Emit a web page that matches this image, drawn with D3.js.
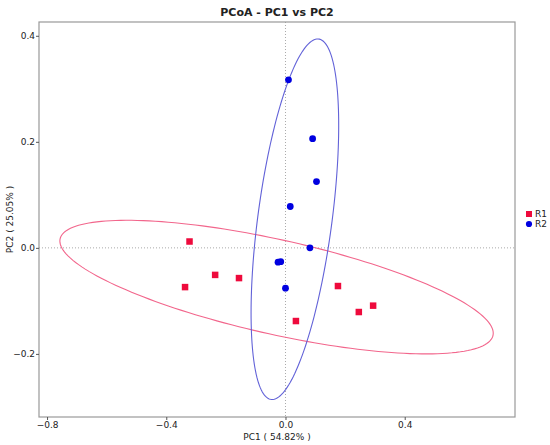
<!DOCTYPE html>
<html>
<head>
<meta charset="utf-8">
<script src="https://cdn.jsdelivr.net/npm/d3@7"></script>
<style>
  body { margin: 0; background: #fff; }
  svg text { font-family: "DejaVu Sans", sans-serif; fill: #222; }
</style>
</head>
<body>
<svg id="chart" width="550" height="445"></svg>
<script>
// sample scores
var groups = ['R1', 'R2'];
var colors = ['#ee0a3c', '#0000e0'];
var ellColors = ['#f2668c', '#6262d8'];

var r1X = [-0.322, -0.236, -0.156, -0.337, 0.176, 0.246, 0.294, 0.035];
var r1Y = [0.012, -0.051, -0.057, -0.074, -0.072, -0.121, -0.109, -0.138];
var r2X = [0.010, 0.091, 0.104, 0.016, 0.082, -0.025, -0.016, 0.000];
var r2Y = [0.317, 0.206, 0.125, 0.078, 0.000, -0.027, -0.026, -0.076];

// confidence ellipses: centre, spread on each axis, correlation
var ellCx = [-0.030, 0.0315];
var ellCy = [-0.074, 0.054];
var ellSx = [0.727, 0.147];
var ellSy = [0.126, 0.340];
var ellRho = [-0.69, 0.52];

var xTicks = [-0.8, -0.4, 0.0, 0.4];
var yTicks = [-0.2, 0.0, 0.2, 0.4];

var title = 'PCoA - PC1 vs PC2';
var xLabel = 'PC1 ( 54.82% )';
var yLabel = 'PC2 ( 25.05% )';

var margin = {top: 22, right: 35, bottom: 28, left: 39};
var width = 550 - margin.left - margin.right;
var height = 445 - margin.top - margin.bottom;

var svg = d3.select('#chart');
var g = svg.append('g')
  .attr('transform', 'translate(' + margin.left + ',' + margin.top + ')');

var x = d3.scaleLinear().domain([-0.827, 0.770]).range([0, width]);
var y = d3.scaleLinear().domain([-0.319, 0.426]).range([height, 0]);

var fmt = d3.format('.1f');

// zero lines
g.append('line')
  .attr('x1', x(0)).attr('x2', x(0))
  .attr('y1', 0).attr('y2', height)
  .attr('stroke', '#aaa').attr('stroke-dasharray', '1,2');
g.append('line')
  .attr('x1', 0).attr('x2', width)
  .attr('y1', y(0)).attr('y2', y(0))
  .attr('stroke', '#aaa').attr('stroke-dasharray', '1,2');

// ellipses
var ts = d3.range(0, 361, 2).map(function(d) { return d * Math.PI / 180; });
var line = d3.line()
  .x(function(d) { return x(d[0]); })
  .y(function(d) { return y(d[1]); });

groups.forEach(function(name, i) {
  var pts = ts.map(function(t) {
    var c = Math.cos(t), s = Math.sin(t);
    return [
      ellCx[i] + ellSx[i] * c,
      ellCy[i] + ellSy[i] * (ellRho[i] * c + Math.sqrt(1 - ellRho[i] * ellRho[i]) * s)
    ];
  });
  g.append('path')
    .attr('d', line(pts))
    .attr('fill', 'none')
    .attr('stroke', ellColors[i])
    .attr('stroke-width', 1.1);
});

// points
var r1 = r1X.map(function(v, i) { return [v, r1Y[i]]; });
var r2 = r2X.map(function(v, i) { return [v, r2Y[i]]; });
var sq = 6.5;

g.selectAll('.r1').data(r1).enter().append('rect')
  .attr('class', 'r1')
  .attr('x', function(d) { return x(d[0]) - sq / 2; })
  .attr('y', function(d) { return y(d[1]) - sq / 2; })
  .attr('width', sq).attr('height', sq)
  .attr('fill', colors[0]);

g.selectAll('.r2').data(r2).enter().append('circle')
  .attr('class', 'r2')
  .attr('cx', function(d) { return x(d[0]); })
  .attr('cy', function(d) { return y(d[1]); })
  .attr('r', 3.4)
  .attr('fill', colors[1]);

// frame
g.append('rect')
  .attr('width', width).attr('height', height)
  .attr('fill', 'none')
  .attr('stroke', '#999').attr('stroke-width', 1.2);

// axes
var xAxis = g.append('g')
  .attr('transform', 'translate(0,' + height + ')')
  .call(d3.axisBottom(x).tickValues(xTicks).tickFormat(fmt).tickSize(3).tickPadding(2));
var yAxis = g.append('g')
  .call(d3.axisLeft(y).tickValues(yTicks).tickFormat(fmt).tickSize(3).tickPadding(1));

[xAxis, yAxis].forEach(function(a) {
  a.select('.domain').remove();
  a.selectAll('line').attr('stroke', '#555');
  a.selectAll('text')
    .attr('font-family', '"DejaVu Sans", sans-serif')
    .attr('font-size', 9)
    .attr('fill', '#222');
});

// title and labels
svg.append('text')
  .attr('x', margin.left + width / 2).attr('y', 16)
  .attr('text-anchor', 'middle')
  .attr('font-size', 11).attr('font-weight', 'bold')
  .text(title);

svg.append('text')
  .attr('x', margin.left + width / 2).attr('y', 440)
  .attr('text-anchor', 'middle')
  .attr('font-size', 9)
  .text(xLabel);

svg.append('text')
  .attr('transform', 'translate(13,' + (margin.top + height / 2) + ') rotate(-90)')
  .attr('text-anchor', 'middle')
  .attr('font-size', 9)
  .text(yLabel);

// legend
var legend = svg.append('g').attr('transform', 'translate(526,211)');
legend.append('rect')
  .attr('x', 0).attr('y', 0).attr('width', 6).attr('height', 6)
  .attr('fill', colors[0]);
legend.append('circle')
  .attr('cx', 3).attr('cy', 13).attr('r', 3.1)
  .attr('fill', colors[1]);
legend.selectAll('.lab').data(groups).enter().append('text')
  .attr('class', 'lab')
  .attr('x', 9)
  .attr('y', function(d, i) { return 6 + i * 10; })
  .attr('font-size', 9)
  .text(function(d) { return d; });
</script>
</body>
</html>
